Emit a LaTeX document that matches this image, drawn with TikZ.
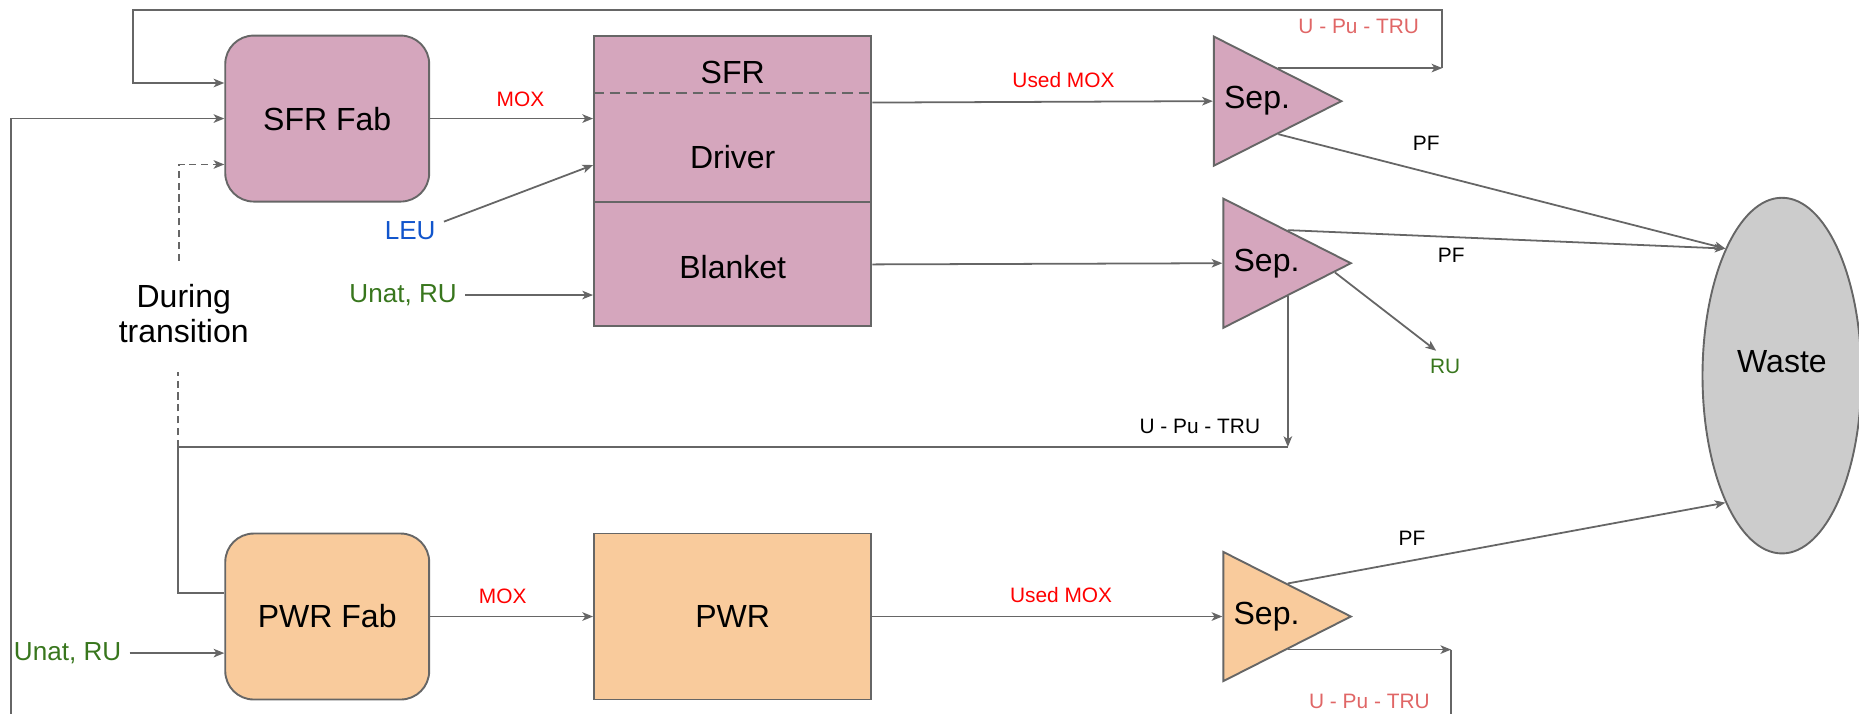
\documentclass[tikz,border=0pt]{standalone}
\usepackage{fontspec}
\setmainfont{Liberation Sans}
\usepackage{tikz}
\usetikzlibrary{arrows.meta,shapes.geometric,calc}
\definecolor{sfrpink}{HTML}{D5A6BD}
\definecolor{pwrorange}{HTML}{F9CB9C}
\definecolor{wastegray}{HTML}{CCCCCC}
\definecolor{linegray}{HTML}{666666}
\definecolor{moxred}{HTML}{FF0000}
\definecolor{recyred}{HTML}{E06666}
\definecolor{ugreen}{HTML}{38761D}
\definecolor{leublue}{HTML}{1155CC}
\newcommand{\fbig}{\fontsize{13.5}{14.75}\selectfont}
\newcommand{\fmid}{\fontsize{11}{13}\selectfont}
\newcommand{\fsmall}{\fontsize{8.8}{10.5}\selectfont}

\begin{document}
\begin{tikzpicture}[x=0.5pt,y=-0.5pt,
        conn/.style={draw=linegray,line width=0.75pt},
        feed/.style={conn,-{Stealth[length=4.5pt,width=3.6pt,inset=1.2pt]}},
        fab/.style={draw=linegray,line width=0.8pt,rounded corners=12pt,inner sep=0pt,
            minimum width=86pt,minimum height=70pt,font=\fbig},
        reactor/.style={draw=linegray,line width=0.8pt,inner sep=0pt,minimum width=117pt,font=\fbig},
        sep/.style={isosceles triangle,isosceles triangle stretches,draw=linegray,line width=0.8pt,
            inner sep=0pt,minimum width=54.5pt,minimum height=53.8pt,font=\fbig},
        tag/.style={anchor=base,font=\fsmall}]
        \useasboundingbox (0,0) rectangle (1568,602);
        \node[fab,fill=sfrpink] (sfrfab) at (276,100) {SFR Fab};
        \node[fab,fill=pwrorange] (pwrfab) at (276,520) {PWR Fab};
        \node[reactor,fill=sfrpink,minimum height=122.5pt] (sfr) at (618,152.5) {};
        \node[anchor=base,font=\fbig] (sfrname) at (618,70) {SFR};
        \node[anchor=base,font=\fbig] (driver) at (618,142) {Driver};
        \node[anchor=base,font=\fbig] (blanket) at (618,235) {Blanket};
        \draw[linegray,line width=0.8pt,dash pattern=on 4.5pt off 2.5pt] (sfr.west |- 0,78.7) -- (sfr.east |- 0,78.7);
        \draw[linegray,line width=0.8pt] (sfr.west |- 0,170) -- (sfr.east |- 0,170);
        \node[reactor,fill=pwrorange,minimum height=70pt] (pwr) at (618,520) {PWR};
        \node[sep,fill=sfrpink,anchor=lower side] (sepa) at (1023,85.3) {Sep.};
        \node[sep,fill=sfrpink,anchor=lower side] (sepb) at (1031,222) {Sep.};
        \node[sep,fill=pwrorange,anchor=lower side] (sepc) at (1031,520) {Sep.};
        \node[ellipse,draw=linegray,line width=0.8pt,fill=wastegray,minimum width=67pt,minimum height=150pt] (waste) at (1503,316.8) {};
        \node[anchor=base,font=\fbig] (wastename) at (1503,314.5) {Waste};

        \node[tag,text=recyred] (toptru) at (1146,28.6) {U - Pu - TRU};
        \node[tag,text=moxred] (moxa) at (439,90) {MOX};
        \node[tag,text=moxred] (usedmoxa) at (897,74) {Used MOX};
        \node[tag] (pfa) at (1203,127) {PF};
        \node[tag] (pfb) at (1224,221.5) {PF};
        \node[tag,text=ugreen] (ru) at (1219,315) {RU};
        \node[tag] (midtru) at (1012,365.5) {U - Pu - TRU};
        \node[tag,text=moxred] (moxb) at (424,508.6) {MOX};
        \node[tag,text=moxred] (usedmoxb) at (895,508) {Used MOX};
        \node[tag] (pfc) at (1191,460.4) {PF};
        \node[tag,text=recyred] (bottru) at (1155,597.3) {U - Pu - TRU};
        \node[tag,font=\fmid,text=leublue] (leu) at (346,202) {LEU};
        \node[tag,font=\fmid,text=ugreen] (unata) at (340,255) {Unat, RU};
        \node[tag,font=\fmid,text=ugreen] (unatb) at (57,557) {Unat, RU};
        \node[anchor=north,inner sep=0pt,font=\fbig,align=center] (trans) at (155,239.7) {During\\transition};

        \coordinate (ra) at (1216.5,59);
        \coordinate (dt) at (151,220);
        \coordinate (db) at (150,314);
        \coordinate (tc) at (150,377);
        \coordinate (lc) at (9,604);
        \coordinate (rb) at (sepb.right side |- 0,377);
        \coordinate (rc) at (sepc.right side -| 1224,0);

        \draw[feed] (sepa.left side) -- (sepa.left side -| ra);
        \draw[feed] (sepa.left side -| ra) |- (112,8.5) |- (sfrfab.west |- 0,70);
        \draw[feed] (lc) |- (sfrfab.west);
        \draw[feed,dash pattern=on 3pt off 2pt] (dt) |- (sfrfab.west |- 0,138.7);
        \draw[feed] (sfrfab.east) -- (sfrfab.east -| sfr.west);
        \draw[feed] (leu.15) -- (sfr.west |- 0,139.2);
        \draw[feed] (unata.east) -- (unata.east -| sfr.west);
        \draw[feed] (sfr.east |- 0,86.5) -- (sepa.lower side);
        \draw[feed] (sfr.east |- 0,223) -- (sepb.lower side);
        \draw[feed] (sepa.right side) -- (waste.114);
        \draw[feed] (sepb.left side) -- (waste.114);
        \draw[feed] ($(sepb.apex)!0.14!(sepb.right corner)$) -- (ru.120);
        \draw[feed] (sepb.right side) -- (rb);
        \draw[conn] (rb) -- (tc) |- (pwrfab.west |- 0,500);
        \draw[conn,dash pattern=on 3pt off 2pt] (tc) -- (db);
        \draw[feed] (unatb.east) -- (unatb.east -| pwrfab.west);
        \draw[feed] (pwrfab.east) -- (pwr.west);
        \draw[feed] (pwr.east) -- (sepc.lower side);
        \draw[feed] (sepc.left side) -- (waste.246);
        \draw[feed] (sepc.right side) -- (rc);
        \draw[conn] (rc) -- (rc |- lc);
\end{tikzpicture}
\end{document}
